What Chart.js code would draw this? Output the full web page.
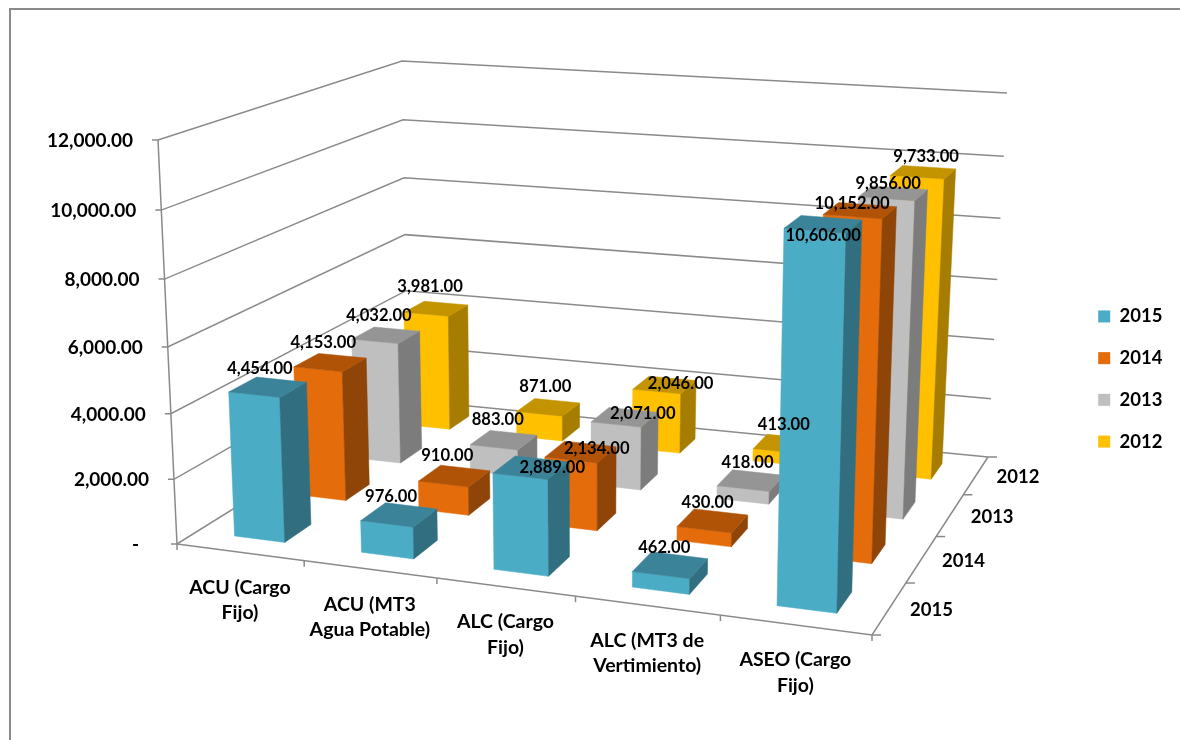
<!DOCTYPE html>
<html>
<head>
<meta charset="utf-8">
<style>
html, body { margin: 0; padding: 0; background: #ffffff; }
canvas { display: block; }
</style>
</head>
<body>
<canvas id="chart" width="1180" height="740"></canvas>
<script src="https://cdn.jsdelivr.net/npm/chart.js@4/dist/chart.umd.min.js"></script>
<script>
"use strict";

var categories = [["ACU (Cargo", "Fijo)"], ["ACU (MT3", "Agua Potable)"], ["ALC (Cargo", "Fijo)"], ["ALC (MT3 de", "Vertimiento)"], ["ASEO (Cargo", "Fijo)"]];
var years = ["2015", "2014", "2013", "2012"];

var values2015 = [4454, 976, 2889, 462, 10606];
var values2014 = [4153, 910, 2134, 430, 10152];
var values2013 = [4032, 883, 2071, 418, 9856];
var values2012 = [3981, 871, 2046, 413, 9733];

var seriesValues = [values2015, values2014, values2013, values2012];

// the value labels were placed by hand in the original, one dx,dy for each bar top
var labelOffsets = [
	[[-8, -18], [-8, -18], [21, 0], [-6, -17], [0, 11]],
	[[-7, -20], [-7, -20], [16, -3], [-5, -18], [-8, -7]],
	[[-7, -20], [-6, -20], [18, -4], [-3, -18], [-5, -10]],
	[[-6, -22], [-3, -21], [16, -1], [-1, -19], [3, -15]]
];

var faceColors = [
	{ front: "#4BACC6", top: "#3A8399", side: "#316E7F" },
	{ front: "#E46C0A", top: "#B05306", side: "#8F4507" },
	{ front: "#BFBFBF", top: "#959595", side: "#7C7C7C" },
	{ front: "#FFC000", top: "#C49400", side: "#A67D00" }
];

var lineColor = "#8A8A8A";
var fontName = "Lato, sans-serif";

// the box of the 3D plot on screen: floor first, then the 12,000 level
var cube = {
	floorFrontLeft: [177, 544], floorFrontRight: [872, 635], floorBackLeft: [408, 400], floorBackRight: [988, 457],
	topFrontLeft: [158, 140], topFrontRight: [884, 193], topBackLeft: [402, 61], topBackRight: [1007, 93]
};

var barWidth = 0.04;
var barDepth = 0.052;

function mix(a, b, t) {
	return [a[0] + (b[0] - a[0]) * t, a[1] + (b[1] - a[1]) * t];
}

// perspective: the front of the box is bigger than the back
function warp(t, k) {
	return t / (t + k * (1 - t));
}

function project(u, v, w) {
	var tu = warp(u, 1.116);
	var tv = warp(v, 0.808);
	var floor = mix(mix(cube.floorFrontLeft, cube.floorFrontRight, tu), mix(cube.floorBackLeft, cube.floorBackRight, tu), tv);
	var top = mix(mix(cube.topFrontLeft, cube.topFrontRight, tu), mix(cube.topBackLeft, cube.topBackRight, tu), tv);
	return mix(floor, top, warp(w, 1.05));
}

function scaleU(chart, index) {
	var x = chart.scales.x;
	return (x.getPixelForTick(index) - x.left) / x.width;
}

function scaleV(chart, index) {
	var depth = chart.scales.depth;
	return (depth.getPixelForTick(index) - depth.left) / depth.width;
}

function scaleW(chart, value) {
	var y = chart.scales.y;
	return (y.bottom - y.getPixelForValue(value)) / y.height;
}

function formatValue(value) {
	return value.toLocaleString("en-US", { minimumFractionDigits: 2, maximumFractionDigits: 2 });
}

function fillFace(ctx, points, color) {
	ctx.beginPath();
	ctx.moveTo(points[0][0], points[0][1]);
	for (var i = 1; i < points.length; i++) {
		ctx.lineTo(points[i][0], points[i][1]);
	}
	ctx.closePath();
	ctx.fillStyle = color;
	ctx.strokeStyle = color;
	ctx.lineWidth = 0.5;
	ctx.fill();
	ctx.stroke();
}

function drawBar(ctx, u, v, w, colors) {
	var u0 = u - barWidth, u1 = u + barWidth;
	var v0 = v - barDepth, v1 = v + barDepth;

	fillFace(ctx, [project(u0, v0, 0), project(u1, v0, 0), project(u1, v0, w), project(u0, v0, w)], colors.front);
	fillFace(ctx, [project(u1, v0, 0), project(u1, v1, 0), project(u1, v1, w), project(u1, v0, w)], colors.side);
	fillFace(ctx, [project(u0, v0, w), project(u1, v0, w), project(u1, v1, w), project(u0, v1, w)], colors.top);
}

function strokeLine(ctx, points) {
	ctx.beginPath();
	ctx.moveTo(points[0][0], points[0][1]);
	for (var i = 1; i < points.length; i++) {
		ctx.lineTo(points[i][0], points[i][1]);
	}
	ctx.stroke();
}

function drawGrid(chart) {
	var ctx = chart.ctx;
	ctx.save();
	ctx.strokeStyle = lineColor;
	ctx.lineWidth = 1.5;

	chart.scales.y.ticks.forEach((tick) => {
		var w = scaleW(chart, tick.value);
		var start = project(0, 0, w);
		strokeLine(ctx, [[start[0] - 6, start[1]], start, project(0, 1, w), project(1, 1, w)]);
	});

	strokeLine(ctx, [project(0, 0, 0), project(0, 0, 1)]);
	strokeLine(ctx, [project(0, 0, 0), project(1, 0, 0), project(1, 1, 0)]);

	var i, p;
	for (i = 0; i <= categories.length; i++) {
		p = project(i / categories.length, 0, 0);
		strokeLine(ctx, [p, [p[0], p[1] + 6]]);
	}
	for (i = 0; i <= years.length; i++) {
		p = project(1, i / years.length, 0);
		strokeLine(ctx, [p, [p[0] + 9, p[1]]]);
	}
	ctx.restore();
}

function drawBars(chart) {
	var ctx = chart.ctx;
	var sets = chart.data.datasets;
	ctx.save();
	// back row first, left to right, so nearer bars cover the ones behind
	for (var s = sets.length - 1; s >= 0; s--) {
		sets[s].data.forEach((value, i) => {
			drawBar(ctx, scaleU(chart, i), scaleV(chart, s), scaleW(chart, value), faceColors[s]);
		});
	}
	ctx.restore();
}

function drawValueLabels(chart) {
	var ctx = chart.ctx;
	ctx.save();
	ctx.font = "bold 16.6px " + fontName;
	ctx.fillStyle = "#000000";
	ctx.textAlign = "center";
	ctx.textBaseline = "middle";
	chart.data.datasets.forEach((set, s) => {
		set.data.forEach((value, i) => {
			var p = project(scaleU(chart, i), scaleV(chart, s), scaleW(chart, value));
			ctx.fillText(formatValue(value), p[0] + labelOffsets[s][i][0], p[1] + labelOffsets[s][i][1]);
		});
	});
	ctx.restore();
}

// the tick labels come from the scales, they only get moved along the slanted edges
function placeAxisLabels(chart) {
	var area = chart.chartArea;
	var scales = chart.scales;

	scales.y.getLabelItems(area).forEach((item, i) => {
		var p = project(0, 0, scaleW(chart, scales.y.ticks[i].value));
		var gap = item.label === "-" ? 38 : 25;
		item.options.translation = [p[0] - gap, p[1] + 1 - item.textOffset];
	});
	scales.x.getLabelItems(area).forEach((item, i) => {
		var p = project(scaleU(chart, i), 0, 0);
		item.options.translation = [p[0], p[1] + 35 - item.textOffset];
	});
	scales.depth.getLabelItems(area).forEach((item, i) => {
		var p = project(1, scaleV(chart, i), 0);
		item.options.translation = [p[0] + 42, p[1] + 2 - item.textOffset];
	});

	// labels are clipped to the box of their scale
	scales.y.left = 0;
	scales.x.top = scales.depth.top = 0;
	scales.x.bottom = scales.depth.bottom = chart.height;

	chart.legend.left = 1075;
	chart.legend.right = 1180;
	chart.legend.top = 284;
	chart.legend.bottom = 740;
}

var plot3d = {
	id: "plot3d",
	beforeDraw(chart) {
		var ctx = chart.ctx;
		ctx.save();
		ctx.fillStyle = "#ffffff";
		ctx.fillRect(0, 0, chart.width, chart.height);
		ctx.strokeStyle = lineColor;
		ctx.lineWidth = 2;
		strokeLine(ctx, [[10, chart.height], [10, 9], [chart.width, 9]]);
		ctx.restore();
	},
	afterLayout(chart) {
		placeAxisLabels(chart);
	},
	beforeDatasetsDraw(chart) {
		drawGrid(chart);
		drawBars(chart);
		drawValueLabels(chart);
		return false;
	}
};

function noHeight(scale) {
	scale.height = 0;
}

function axisFont(size) {
	return { family: fontName, size: size, weight: "bold", lineHeight: 1.3 };
}

new Chart(document.getElementById("chart"), {
	type: "bar",
	data: {
		labels: categories,
		datasets: years.map((year, s) => ({
			label: year,
			data: seriesValues[s],
			backgroundColor: faceColors[s].front
		}))
	},
	options: {
		responsive: false,
		animation: false,
		layout: { padding: { left: 155, top: 140, bottom: 196, right: 10 } },
		scales: {
			x: {
				position: "bottom",
				afterFit: noHeight,
				grid: { display: false },
				border: { display: false },
				ticks: { color: "#000000", font: axisFont(19.5), autoSkip: false, maxRotation: 0 }
			},
			depth: {
				type: "category",
				labels: years,
				position: "bottom",
				offset: true,
				afterFit: noHeight,
				grid: { display: false },
				border: { display: false },
				ticks: { color: "#000000", font: axisFont(18.5), autoSkip: false, maxRotation: 0 }
			},
			y: {
				min: 0,
				max: 12000,
				afterFit(scale) { scale.width = 0; },
				grid: { display: false },
				border: { display: false },
				ticks: {
					stepSize: 2000,
					color: "#000000",
					font: axisFont(19),
					callback: (value) => value === 0 ? "-" : formatValue(value)
				}
			}
		},
		plugins: {
			legend: {
				position: "right",
				align: "start",
				labels: {
					color: "#000000",
					font: axisFont(18.5),
					boxWidth: 12,
					boxHeight: 12,
					padding: 23.2
				}
			},
			tooltip: { enabled: false }
		}
	},
	plugins: [plot3d]
});
</script>
</body>
</html>
